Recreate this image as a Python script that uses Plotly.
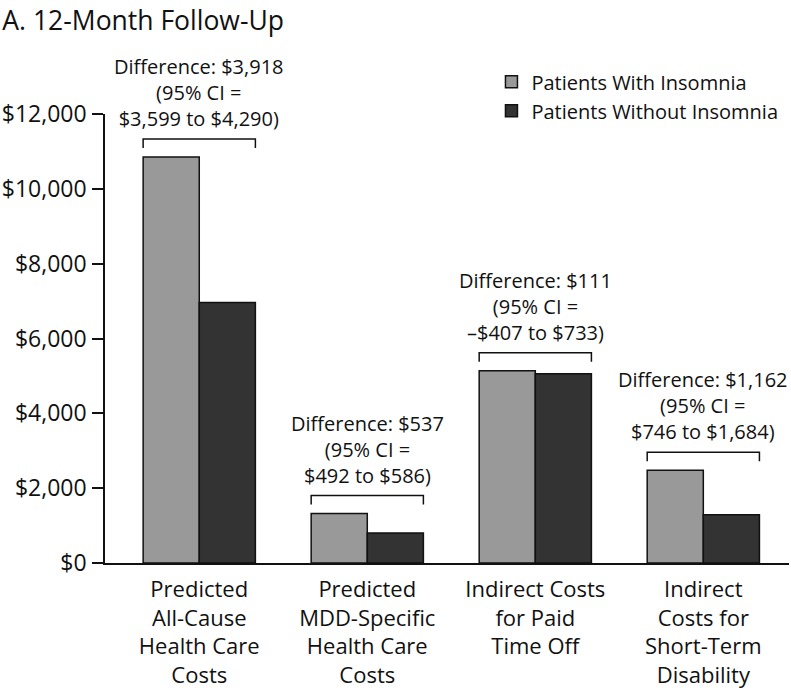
import plotly.graph_objects as go

categories = [
    "Predicted<br>All-Cause<br>Health Care<br>Costs",
    "Predicted<br>MDD-Specific<br>Health Care<br>Costs",
    "Indirect Costs<br>for Paid<br>Time Off",
    "Indirect<br>Costs for<br>Short-Term<br>Disability",
]
with_insomnia = [10850, 1320, 5140, 2480]
without_insomnia = [6960, 800, 5060, 1290]
diff_labels = [
    "Difference: $3,918<br>(95% CI =<br>$3,599 to $4,290)",
    "Difference: $537<br>(95% CI =<br>$492 to $586)",
    "Difference: $111<br>(95% CI =<br>\u2013$407 to $733)",
    "Difference: $1,162<br>(95% CI =<br>$746 to $1,684)",
]
y_ticks = [0, 2000, 4000, 6000, 8000, 10000, 12000]
y_ticktext = ["$0", "$2,000", "$4,000", "$6,000", "$8,000", "$10,000", "$12,000"]

FONT = "Open Sans"
x_pos = list(range(len(categories)))
BARGAP = 0.332
half = (1 - BARGAP) / 2

fig = go.Figure()
fig.add_trace(go.Bar(
    x=x_pos, y=with_insomnia, name="Patients With Insomnia",
    marker=dict(color="#999999", line=dict(color="#111111", width=1.5)),
))
fig.add_trace(go.Bar(
    x=x_pos, y=without_insomnia, name="Patients Without Insomnia",
    marker=dict(color="#333333", line=dict(color="#111111", width=1.5)),
))

shapes = []
annotations = []
for i, (v, lab) in enumerate(zip(with_insomnia, diff_labels)):
    x0, x1 = i - half, i + half
    shapes.append(dict(
        type="path", xref="x", yref="y", ysizemode="pixel", yanchor=v,
        path=f"M {x0},9 L {x0},18 L {x1},18 L {x1},9",
        line=dict(color="#111111", width=1.5),
    ))
    annotations.append(dict(
        x=i, y=v, xref="x", yref="y", text=lab, showarrow=False,
        xanchor="center", yanchor="bottom", yshift=23,
        font=dict(family=FONT, size=20, color="#111111"),
    ))

fig.update_layout(
    width=791, height=697,
    margin=dict(l=101, r=2, t=114, b=134),
    paper_bgcolor="white", plot_bgcolor="white",
    barmode="group", bargap=BARGAP, bargroupgap=0,
    font=dict(family=FONT, color="#111111"),
    title=dict(
        text="A. 12-Month Follow-Up", x=0.003, xref="container", xanchor="left",
        y=0.983, yref="container", yanchor="top", pad=dict(l=0, t=0),
        font=dict(family=FONT, size=26.5, color="#111111"),
    ),
    xaxis=dict(
        range=[-0.561, 3.51], tickvals=x_pos, ticktext=categories,
        showline=True, linecolor="#111111", linewidth=1.5, ticks="",
        ticklabelstandoff=6,
        showgrid=False, zeroline=False, tickfont=dict(family=FONT, size=22, color="#111111"),
    ),
    yaxis=dict(
        range=[0, 12000], tickvals=y_ticks, ticktext=y_ticktext,
        showline=True, linecolor="#111111", linewidth=1.5,
        ticks="outside", ticklen=11, tickwidth=1.5, tickcolor="#111111",
        showgrid=False, zeroline=False, ticklabelstandoff=1,
        tickfont=dict(family=FONT, size=23, color="#111111"),
    ),
    legend=dict(
        x=0.565, y=1.115, xanchor="left", yanchor="top",
        font=dict(family=FONT, size=20, color="#111111"),
        bgcolor="rgba(0,0,0,0)", tracegroupgap=0,
    ),
    shapes=shapes, annotations=annotations,
)

fig.write_html(
    "out.html",
    config={"displayModeBar": False},
    post_script="document.body.style.margin='0';document.body.style.overflow='hidden';",
)
